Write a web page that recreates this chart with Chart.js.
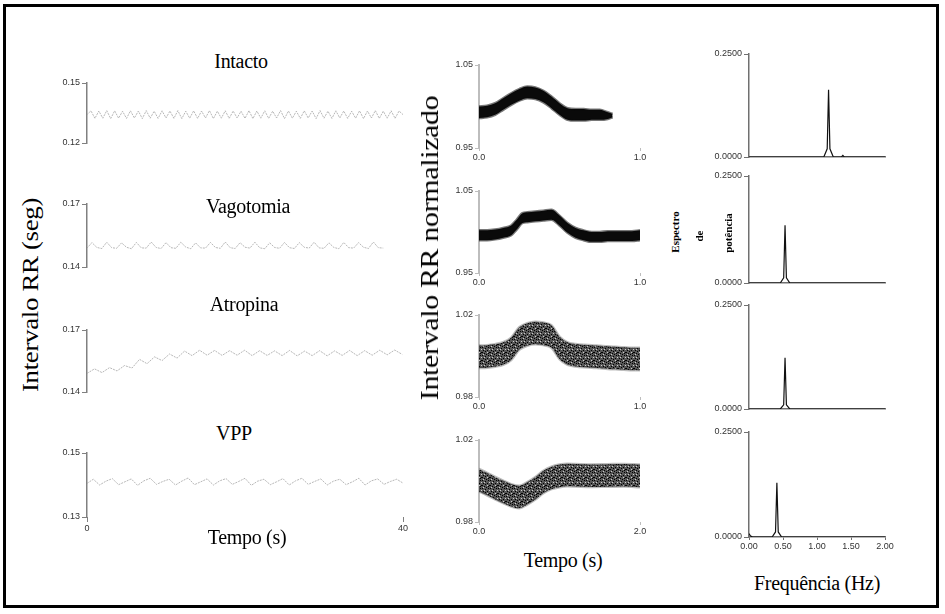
<!DOCTYPE html>
<html><head><meta charset="utf-8">
<script src="https://cdn.jsdelivr.net/npm/chart.js@4.4.1/dist/chart.umd.min.js"></script>
<style>
html,body{margin:0;padding:0;background:#fff;}
#page{position:relative;width:945px;height:614px;overflow:hidden;background:#fff;}
#frame{position:absolute;left:3px;top:4px;width:930px;height:598px;border:3px solid #000;}
canvas{position:absolute;}
.t{position:absolute;z-index:5;font-family:"Liberation Serif","DejaVu Serif",serif;font-size:20px;color:#000;white-space:nowrap;transform:translate(-50%,-50%);letter-spacing:-0.3px;}
.v{transform:translate(-50%,-50%) rotate(-90deg) scaleX(1.12);}
.s{font-size:11px;font-weight:bold;transform:translate(-50%,-50%) rotate(-90deg);letter-spacing:0;}
</style></head>
<body><div id="page"><div id="frame"></div>
<div class="t" style="left:241px;top:61px">Intacto</div>
<div class="t" style="left:248px;top:206px">Vagotomia</div>
<div class="t" style="left:244px;top:304px">Atropina</div>
<div class="t" style="left:234px;top:433px">VPP</div>
<div class="t" style="left:247px;top:537px">Tempo (s)</div>
<div class="t" style="left:563px;top:560px">Tempo (s)</div>
<div class="t" style="left:817px;top:583px">Frequência (Hz)</div>
<div class="t v" style="left:30px;top:295px;font-size:24px">Intervalo RR (seg)</div>
<div class="t v" style="left:430px;top:248px;font-size:25px;transform:translate(-50%,-50%) rotate(-90deg) scaleX(1.2)">Intervalo RR normalizado</div>
<div class="t s" style="left:675px;top:232px">Espectro</div>
<div class="t s" style="left:699px;top:236px">de</div>
<div class="t s" style="left:728px;top:233px">potência</div>
</div>
<script>
// ---------- Left column: RR interval time series (s) ----------
const rrTimeTicks = [0, 40];
const intactoStep = 0.5;
const intactoRR = [
0.1342,0.1361,0.1323,0.1360,0.1324,0.1362,0.1322,0.1361,0.1324,0.1359,
0.1323,0.1361,0.1325,0.1360,0.1322,0.1362,0.1324,0.1359,0.1323,0.1361,
0.1325,0.1360,0.1323,0.1362,0.1322,0.1359,0.1324,0.1361,0.1323,0.1360,
0.1325,0.1362,0.1322,0.1359,0.1324,0.1361,0.1323,0.1360,0.1325,0.1359,
0.1323,0.1362,0.1322,0.1360,0.1324,0.1361,0.1323,0.1359,0.1325,0.1362,
0.1322,0.1360,0.1324,0.1359,0.1323,0.1361,0.1325,0.1360,0.1322,0.1362,
0.1324,0.1359,0.1323,0.1361,0.1325,0.1360,0.1323,0.1359,0.1324,0.1361,
0.1322,0.1360,0.1325,0.1362,0.1323,0.1359,0.1324,0.1361,0.1323,0.1360,0.1342];
const intactoTicks = [0.12, 0.15];

const vagoStep = 0.625;
const vagoRR = [
0.1490,0.1516,0.1493,0.1488,0.1518,0.1492,0.1489,0.1515,0.1494,0.1487,
0.1517,0.1491,0.1490,0.1519,0.1493,0.1488,0.1516,0.1492,0.1489,0.1518,
0.1495,0.1487,0.1515,0.1491,0.1490,0.1517,0.1493,0.1489,0.1519,0.1492,
0.1488,0.1516,0.1494,0.1490,0.1518,0.1491,0.1487,0.1515,0.1493,0.1489,
0.1517,0.1492,0.1488,0.1516,0.1494,0.1490,0.1518,0.1491,0.1489,0.1515,
0.1493,0.1487,0.1517,0.1492,0.1490,0.1516,0.1494,0.1488,0.1519,0.1492,0.1490];
const vagoTicks = [0.14, 0.17];

const atropStep = 0.95;
const atropRR = [
0.1490,0.1512,0.1494,0.1518,0.1502,0.1528,0.1516,0.1558,0.1537,0.1570,
0.1552,0.1584,0.1564,0.1598,0.1576,0.1602,0.1578,0.1601,0.1577,0.1600,
0.1578,0.1602,0.1576,0.1600,0.1577,0.1599,0.1576,0.1601,0.1575,0.1598,
0.1576,0.1600,0.1575,0.1599,0.1577,0.1601,0.1576,0.1600,0.1578,0.1602,
0.1580,0.1603,0.1582];
const atropTicks = [0.14, 0.17];

const vppStep = 0.8;
const vppRR = [
0.1405,0.1418,0.1400,0.1412,0.1420,0.1401,0.1410,0.1419,0.1399,0.1413,
0.1421,0.1402,0.1411,0.1418,0.1400,0.1412,0.1422,0.1401,0.1410,0.1419,
0.1400,0.1413,0.1420,0.1402,0.1411,0.1421,0.1399,0.1412,0.1418,0.1401,
0.1410,0.1420,0.1400,0.1413,0.1421,0.1402,0.1411,0.1419,0.1400,0.1412,
0.1418,0.1401,0.1410,0.1421,0.1400,0.1413,0.1419,0.1402,0.1411,0.1418,0.1406];
const vppTicks = [0.13, 0.15];

// ---------- Middle column: normalized RR (band of scattered beats) ----------
const normTicks05 = [0.95, 1.05];
const normTicks02 = [0.98, 1.02];
const normTimeTicks1 = [0, 1];
const normTimeTicks2 = [0, 2];

const intNormT     = [0,0.05,0.1,0.15,0.2,0.25,0.3,0.35,0.4,0.45,0.5,0.55,0.6,0.65,0.7,0.75,0.8,0.83];
const intNormUpper = [1.000,1.001,1.004,1.010,1.016,1.021,1.024,1.023,1.019,1.012,1.004,0.998,0.997,0.997,0.996,0.996,0.993,0.991];
const intNormLower = [0.986,0.987,0.990,0.996,1.002,1.007,1.010,1.009,1.005,0.998,0.990,0.984,0.983,0.983,0.984,0.984,0.985,0.987];

const vagNormT     = [0,0.05,0.1,0.15,0.2,0.23,0.27,0.3,0.35,0.4,0.45,0.5,0.55,0.6,0.65,0.7,0.75,0.8,0.85,0.9,0.95,1.0];
const vagNormUpper = [1.002,1.002,1.003,1.005,1.008,1.014,1.023,1.024,1.025,1.026,1.027,1.020,1.011,1.005,1.002,1.000,1.000,1.001,1.001,1.001,1.001,1.002];
const vagNormLower = [0.990,0.990,0.991,0.993,0.996,1.002,1.011,1.012,1.013,1.014,1.015,1.008,0.999,0.993,0.990,0.988,0.988,0.989,0.989,0.989,0.989,0.990];

const atrNormT     = [0,0.05,0.1,0.15,0.2,0.25,0.3,0.35,0.4,0.45,0.5,0.55,0.6,0.65,0.7,0.75,0.8,0.85,0.9,0.95,1.0];
const atrNormUpper = [1.0051,1.0053,1.0058,1.0067,1.0090,1.0140,1.0160,1.0167,1.0163,1.0150,1.0095,1.0067,1.0059,1.0055,1.0053,1.0050,1.0047,1.0045,1.0043,1.0040,1.0040];
const atrNormLower = [0.9941,0.9943,0.9948,0.9957,0.9980,1.0030,1.0050,1.0057,1.0053,1.0040,0.9985,0.9957,0.9949,0.9945,0.9943,0.9940,0.9937,0.9935,0.9933,0.9930,0.9930];

const vppNormT     = [0,0.1,0.2,0.3,0.4,0.5,0.6,0.7,0.8,0.9,1.0,1.1,1.2,1.4,1.6,1.8,2.0];
const vppNormUpper = [1.0059,1.0040,1.0020,1.0002,0.9985,0.9977,0.9995,1.0020,1.0050,1.0070,1.0080,1.0084,1.0083,1.0081,1.0082,1.0083,1.0080];
const vppNormLower = [0.9949,0.9930,0.9910,0.9892,0.9875,0.9867,0.9885,0.9910,0.9940,0.9960,0.9970,0.9974,0.9973,0.9971,0.9972,0.9973,0.9970];

// ---------- Right column: power spectra ----------
const powerTicks = [0, 0.25];
const freqTicks = [0, 0.5, 1.0, 1.5, 2.0];
const intSpecF = [0,1.10,1.15,1.17,1.19,1.24,1.36,1.38,1.40,2.0];
const intSpecP = [0,0,0.020,0.163,0.020,0,0,0.004,0,0];
const vagSpecF = [0,0.46,0.51,0.53,0.55,0.60,2.0];
const vagSpecP = [0,0,0.012,0.135,0.012,0,0];
const atrSpecF = [0,0.46,0.51,0.53,0.55,0.60,2.0];
const atrSpecP = [0,0,0.010,0.123,0.010,0,0];
const vppSpecF = [0,0.02,0.05,0.34,0.39,0.41,0.43,0.48,2.0];
const vppSpecP = [0.008,0.003,0,0,0.012,0.129,0.012,0,0];

// ---------- helpers ----------
const page = document.getElementById('page');
const tickFont = {family:'Liberation Sans', size:9};
function pts(xs, ys){ return ys.map((y,i)=>({x:xs[i], y})); }
function stepPts(step, ys){ return ys.map((y,i)=>({x:i*step, y})); }

function yScale(min,max,ticks,dec,Ly,col,bw,tl){
  return {type:'linear', min, max,
    afterBuildTicks: s => { s.ticks = ticks.map(v=>({value:v})); },
    afterFit: s => { s.width = Ly; },
    ticks:{callback:v=>Number(v).toFixed(dec), font:tickFont, color:'#333', padding:2, autoSkip:false},
    grid:{display:true, drawOnChartArea:false, drawTicks:true, tickLength:tl, color:col, lineWidth:1},
    border:{display:true, color:col, width:bw}};
}
function xScale(min,max,ticks,dec,Hx,showBorder,col,tl,showLabels){
  return {type:'linear', min, max,
    afterBuildTicks: s => { s.ticks = ticks.map(v=>({value:v})); },
    afterFit: s => { s.height = Hx; },
    ticks:{display:showLabels, callback:v=>dec==null?String(v):Number(v).toFixed(dec), font:tickFont, color:'#333', padding:1, maxRotation:0, autoSkip:false},
    grid:{display:tl>0, drawOnChartArea:false, drawTicks:tl>0, tickLength:tl, color:col, lineWidth:1},
    border:{display:showBorder, color:col, width:1.5}};
}
function panel(area, Ly, Hx, x, y, datasets){
  const pt=8, pr=14, pb = Hx?0:8;
  const c = document.createElement('canvas');
  const w = Math.round(area.r-area.l+Ly+pr), h = Math.round(area.b-area.t+pt+(Hx||pb));
  c.width=w; c.height=h;
  c.style.left=Math.round(area.l-Ly)+'px'; c.style.top=Math.round(area.t-pt)+'px';
  page.appendChild(c);
  new Chart(c,{type:'line', data:{datasets},
    options:{responsive:false, animation:false, events:[],
      layout:{padding:{top:pt,right:pr,bottom:pb,left:0}},
      plugins:{legend:{display:false}, tooltip:{enabled:false}},
      scales:{x, y}}});
}
function rrLine(data){ return {data, borderColor:'#a4a4a4', borderWidth:0.8, borderDash:[2,1], pointRadius:0, tension:0, fill:false}; }
function specLine(data){ return {data, borderColor:'#111', borderWidth:1.2, pointRadius:0, tension:0, fill:false}; }
function speckle(){
  const n=8, t=document.createElement('canvas'); t.width=n; t.height=n;
  const g=t.getContext('2d');
  g.fillStyle='rgba(45,45,45,0.8)'; g.fillRect(0,0,n,n);
  g.fillStyle='#000';
  [[0,0],[3,1],[6,0],[1,3],[5,3],[2,6],[7,5],[4,7],[0,5],[6,6],[3,4]].forEach(p=>g.fillRect(p[0],p[1],1,1));
  g.fillStyle='rgba(200,200,200,0.9)';
  [[2,2],[5,5],[7,2],[1,7]].forEach(p=>{g.clearRect(p[0],p[1],1,1); g.fillRect(p[0],p[1],1,1);});
  return g.createPattern(t,'repeat');
}
function band(xs, up, lo, fillStyle, edge){
  return [
    {data:pts(xs,lo), borderColor:edge, borderWidth:2.5, pointRadius:0, cubicInterpolationMode:'monotone', fill:false},
    {data:pts(xs,up), borderColor:edge, borderWidth:2.5, pointRadius:0, cubicInterpolationMode:'monotone', fill:'-1', backgroundColor:fillStyle}
  ];
}

// ---------- left column ----------
const LC='#808080';
panel({l:87,r:403,t:82.7,b:143},40,0, xScale(0,40,rrTimeTicks,null,0,false,LC,0,false), yScale(0.12,0.15,intactoTicks,2,40,LC,1.5,5), [rrLine(stepPts(intactoStep,intactoRR))]);
panel({l:87,r:403,t:204,b:267},40,0, xScale(0,40,rrTimeTicks,null,0,false,LC,0,false), yScale(0.14,0.17,vagoTicks,2,40,LC,1.5,5), [rrLine(stepPts(vagoStep,vagoRR))]);
panel({l:87,r:403,t:330,b:392},40,0, xScale(0,40,rrTimeTicks,null,0,false,LC,0,false), yScale(0.14,0.17,atropTicks,2,40,LC,1.5,5), [rrLine(stepPts(atropStep,atropRR))]);
panel({l:87,r:403,t:453,b:517},40,18, xScale(0,40,rrTimeTicks,null,18,false,LC,5,true), yScale(0.13,0.15,vppTicks,2,40,LC,1.5,5), [rrLine(stepPts(vppStep,vppRR))]);

// ---------- middle column ----------
const MC='#bdbdbd';
const dark = '#0a0a0a', darkEdge = 'rgba(10,10,10,0.55)';
panel({l:479.3,r:640.5,t:65,b:148.3},45,14, xScale(0,1,normTimeTicks1,1,14,false,MC,3,true), yScale(0.95,1.05,normTicks05,2,45,MC,2,4), band(intNormT,intNormUpper,intNormLower,dark,darkEdge));
panel({l:479.3,r:640.5,t:190.7,b:272.7},45,14, xScale(0,1,normTimeTicks1,1,14,false,MC,3,true), yScale(0.95,1.05,normTicks05,2,45,MC,2,4), band(vagNormT,vagNormUpper,vagNormLower,dark,darkEdge));
const sp = speckle(), spEdge = 'rgba(40,40,40,0.3)';
panel({l:479.3,r:640.5,t:315,b:396.7},45,14, xScale(0,1,normTimeTicks1,1,14,false,MC,3,true), yScale(0.98,1.02,normTicks02,2,45,MC,2,4), band(atrNormT,atrNormUpper,atrNormLower,sp,spEdge));
panel({l:479.3,r:640.5,t:440,b:521.7},45,14, xScale(0,2,normTimeTicks2,1,14,false,MC,3,true), yScale(0.98,1.02,normTicks02,2,45,MC,2,4), band(vppNormT,vppNormUpper,vppNormLower,sp,spEdge));

// ---------- right column ----------
const RC='#707070';
panel({l:749,r:885,t:54,b:157},50,8, xScale(0,2,freqTicks,2,8,true,RC,0,false), yScale(0,0.25,powerTicks,4,50,RC,1.5,5), [specLine(pts(intSpecF,intSpecP))]);
panel({l:749,r:885,t:176,b:283},50,8, xScale(0,2,freqTicks,2,8,true,RC,0,false), yScale(0,0.25,powerTicks,4,50,RC,1.5,5), [specLine(pts(vagSpecF,vagSpecP))]);
panel({l:749,r:885,t:305,b:409},50,8, xScale(0,2,freqTicks,2,8,true,RC,0,false), yScale(0,0.25,powerTicks,4,50,RC,1.5,5), [specLine(pts(atrSpecF,atrSpecP))]);
panel({l:749,r:885,t:432,b:537},50,18, xScale(0,2,freqTicks,2,18,true,RC,3,true), yScale(0,0.25,powerTicks,4,50,RC,1.5,5), [specLine(pts(vppSpecF,vppSpecP))]);
</script>
</body></html>
